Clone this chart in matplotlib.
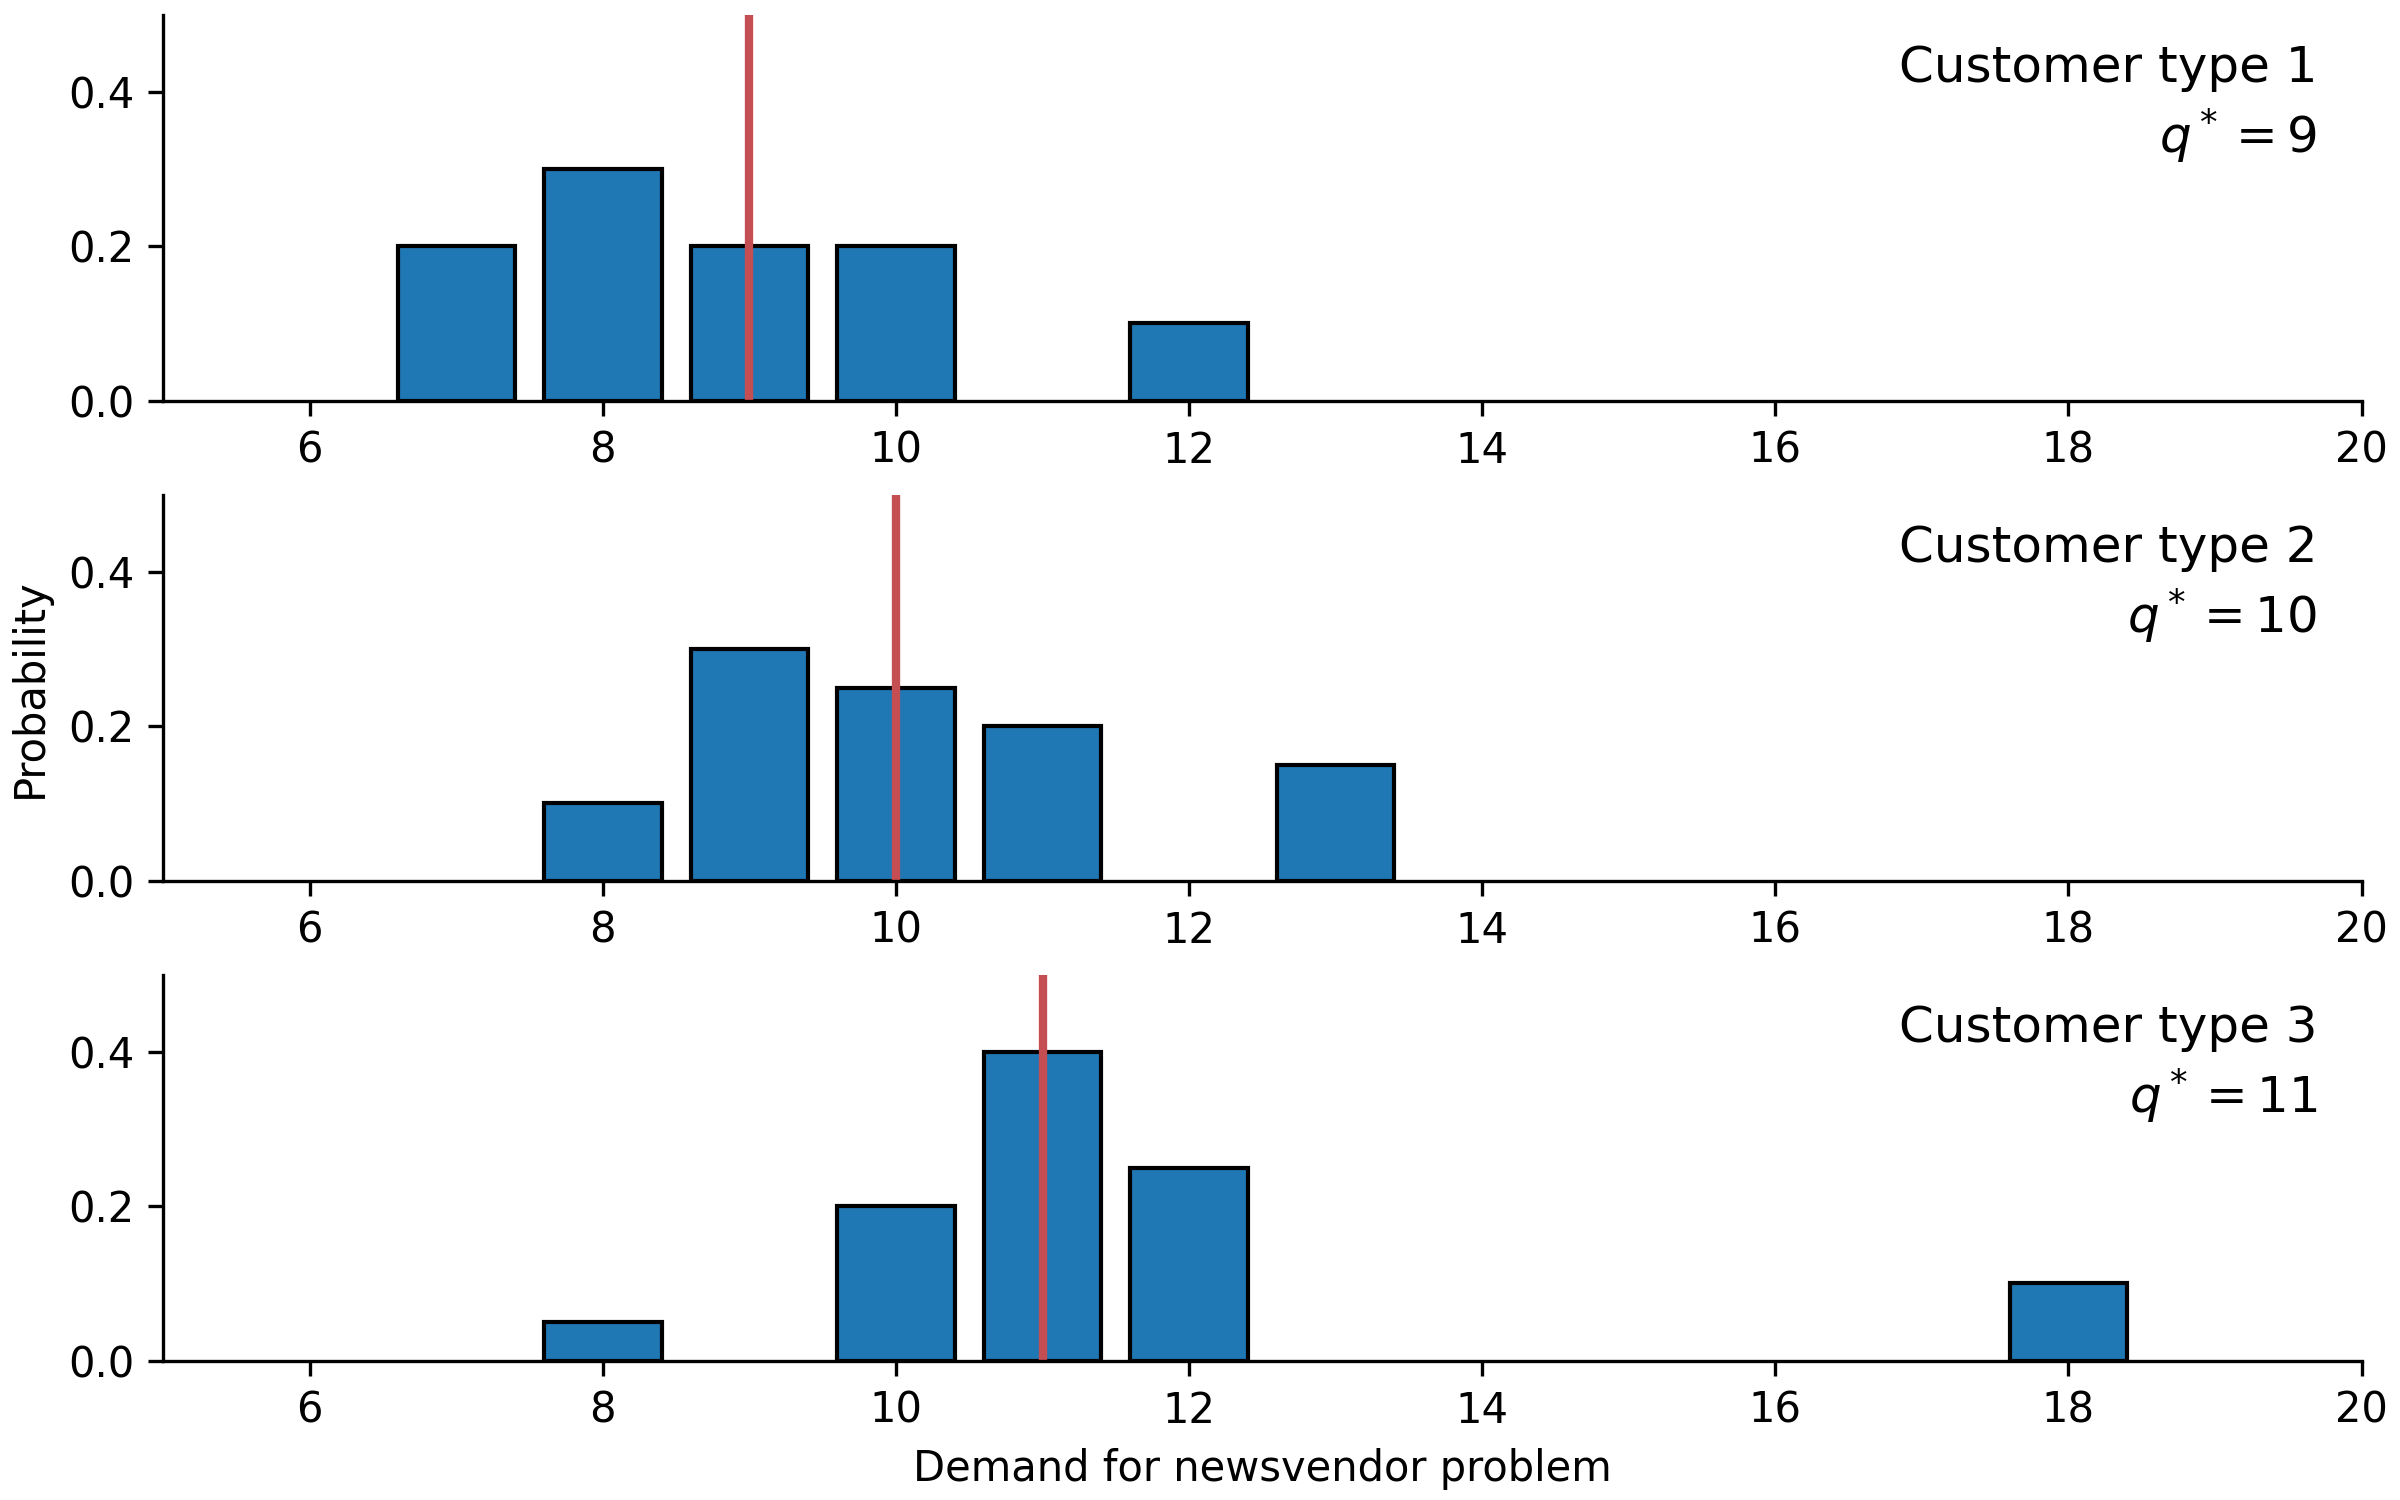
import numpy as np
import matplotlib.pyplot as plt

# demand distributions for each customer type
demand_1 = [7, 8, 9, 10, 12]
prob_1 = [0.2, 0.3, 0.2, 0.2, 0.1]
demand_2 = [8, 9, 10, 11, 13]
prob_2 = [0.1, 0.3, 0.25, 0.2, 0.15]
demand_3 = [8, 10, 11, 12, 18]
prob_3 = [0.05, 0.2, 0.4, 0.25, 0.1]
q_star = [9, 10, 11]
labels = ['Customer type 1', 'Customer type 2', 'Customer type 3']

demands = [demand_1, demand_2, demand_3]
probs = [prob_1, prob_2, prob_3]

fig, axes = plt.subplots(3, 1, figsize=(8, 5), dpi=300)
fig.subplots_adjust(left=0.068, right=0.984, top=0.99, bottom=0.093, hspace=0.245)

for ax, d, p, q, lab in zip(axes, demands, probs, q_star, labels):
	ax.bar(d, p, width=0.8, color='#1f77b4', edgecolor='black', linewidth=1)
	ax.axvline(q, color='#c44e52', linewidth=2)
	ax.set_xlim(5, 20)
	ax.set_ylim(0, 0.5)
	ax.set_yticks([0.0, 0.2, 0.4])
	ax.set_xticks(np.arange(6, 21, 2))
	ax.tick_params(labelsize=10)
	ax.spines['top'].set_visible(False)
	ax.spines['right'].set_visible(False)
	# label + optimal order quantity, top right
	ax.text(0.98, 0.925, lab + '\n' + r'$q^* = %d$' % q, transform=ax.transAxes,
		ha='right', va='top', multialignment='right', fontsize=12, linespacing=1.3)

axes[2].set_xlabel('Demand for newsvendor problem', fontsize=10)
axes[1].set_ylabel('Probability', fontsize=10)

plt.savefig('out.png')
